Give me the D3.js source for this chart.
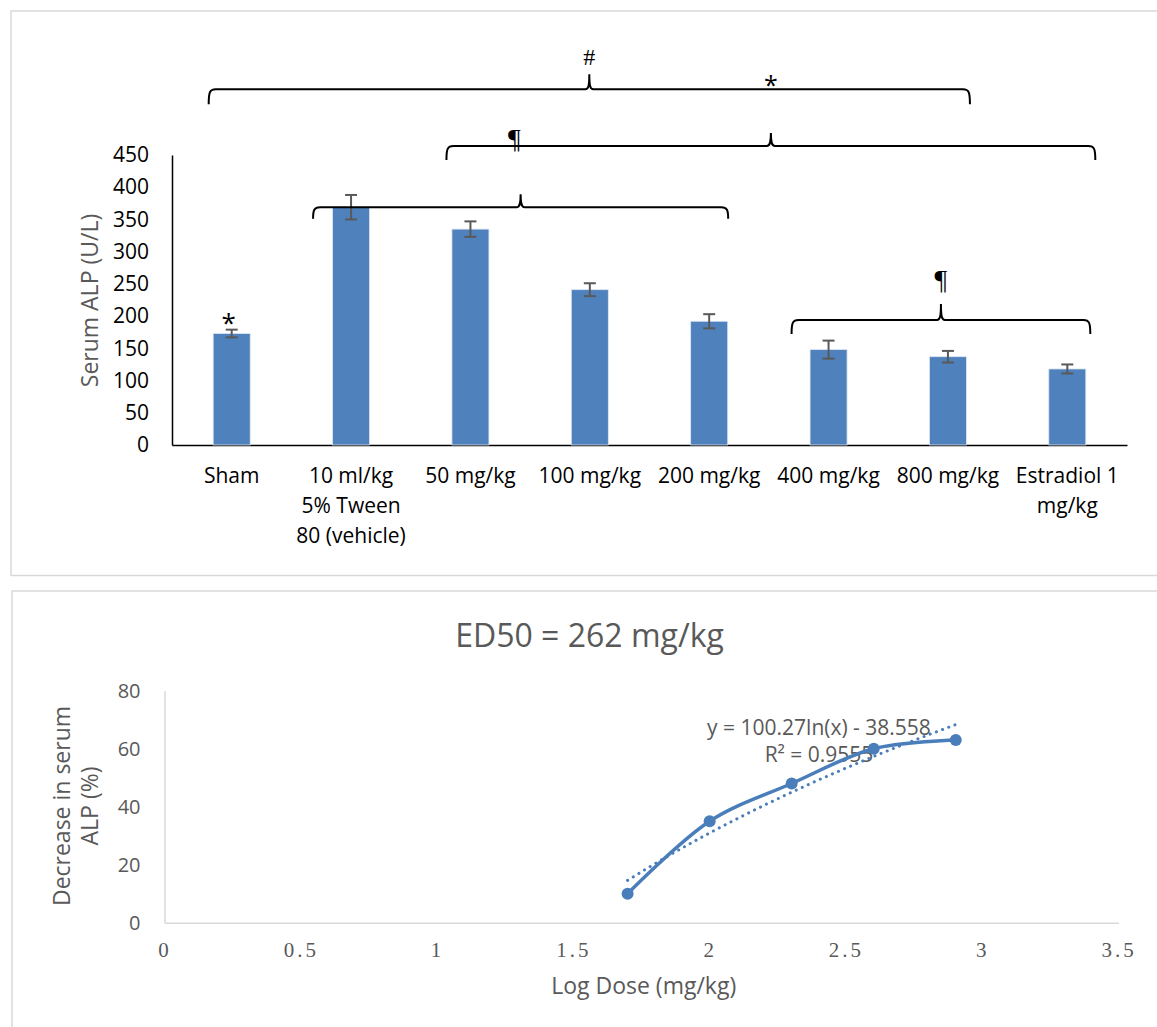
<!DOCTYPE html>
<html>
<head>
<meta charset="utf-8">
<script src="https://cdn.jsdelivr.net/npm/d3@7"></script>
<style>
    body { margin: 0; background: #fff; }
    svg { font-family: "Open Sans", sans-serif; }
</style>
</head>
<body>
<div class="container"></div>
<script>
// ---- top chart data: serum ALP per group ----
const categories = ["Sham", "10 ml/kg 5% Tween 80 (vehicle)", "50 mg/kg", "100 mg/kg", "200 mg/kg", "400 mg/kg", "800 mg/kg", "Estradiol 1 mg/kg"];
const categoryLines = [["Sham"], ["10 ml/kg", "5% Tween", "80 (vehicle)"], ["50 mg/kg"], ["100 mg/kg"], ["200 mg/kg"], ["400 mg/kg"], ["800 mg/kg"], ["Estradiol 1", "mg/kg"]];
const alpMeans = [173, 369, 335, 241, 192, 148, 137, 118];
const alpErrors = [6, 19, 12, 10, 11, 14, 9, 7];
const alpMax = 450;

// significance brackets (group spans and level in U/L)
const bracketFrom = ["Sham", "50 mg/kg", "10 ml/kg 5% Tween 80 (vehicle)", "400 mg/kg"];
const bracketTo = ["800 mg/kg", "Estradiol 1 mg/kg", "200 mg/kg", "Estradiol 1 mg/kg"];
const bracketLevel = [552, 464, 369, 194];
const shamMark = "*";

// ---- bottom chart data: dose response ----
const logDose = [1.699, 2, 2.301, 2.602, 2.903];
const alpDecrease = [10, 35, 48, 60, 63];
const trendSlope = 100.27;
const trendIntercept = -38.558;
const trendR2 = 0.9555;
const ed50Label = "ED50 = 262 mg/kg";

const sans = "'Open Sans', sans-serif";
const serif = "'Liberation Serif', 'DejaVu Serif', serif";

const svg = d3.select(".container")
    .append("svg")
    .attr("width", 1157)
    .attr("height", 1027)
    .style("display", "block");

// panel frames
svg.append("rect")
    .attr("x", 11).attr("y", 11).attr("width", 1170).attr("height", 564.5)
    .attr("fill", "#fff").attr("stroke", "#d9d9d9").attr("stroke-width", 1.5);
svg.append("rect")
    .attr("x", 12).attr("y", 591).attr("width", 1170).attr("height", 470)
    .attr("fill", "#fff").attr("stroke", "#d9d9d9").attr("stroke-width", 1.5);

// ================= top bar chart =================
const x = d3.scaleBand()
    .domain(categories)
    .range([172, 1127])
    .paddingInner(0.69)
    .paddingOuter(0.345);

const y = d3.scaleLinear().domain([0, alpMax]).range([445, 155]);

const topG = svg.append("g");

const yAxis = topG.append("g")
    .attr("transform", "translate(172,0)")
    .call(d3.axisLeft(y).ticks(9).tickSizeInner(0).tickSizeOuter(0).tickPadding(23));
yAxis.select(".domain").attr("stroke", "#000").attr("stroke-width", 1.5);
yAxis.selectAll("text")
    .style("font-family", sans)
    .style("font-size", "21px")
    .attr("fill", "#000");

const xAxis = topG.append("g")
    .attr("transform", "translate(0,445)")
    .call(d3.axisBottom(x).tickSizeInner(0).tickSizeOuter(0).tickFormat(""));
xAxis.select(".domain").attr("stroke", "#000").attr("stroke-width", 1.5);

xAxis.selectAll(".tick text")
    .attr("y", 0)
    .attr("dy", 0)
    .style("font-family", sans)
    .style("font-size", "21px")
    .attr("fill", "#000")
    .each(function (d, i) {
        const t = d3.select(this);
        categoryLines[i].forEach((line, j) => {
            t.append("tspan").attr("x", 0).attr("y", 38 + j * 30).text(line);
        });
    });

topG.append("text")
    .attr("transform", "translate(98,300.5) rotate(-90)")
    .attr("text-anchor", "middle")
    .style("font-size", "23px")
    .attr("fill", "#595959")
    .text("Serum ALP (U/L)");

const barData = categories.map((c, i) => ({ name: c, value: alpMeans[i], err: alpErrors[i] }));

topG.selectAll("rect.bar")
    .data(barData)
    .enter()
    .append("rect")
    .attr("class", "bar")
    .attr("x", (d) => x(d.name))
    .attr("y", (d) => y(d.value))
    .attr("width", x.bandwidth())
    .attr("height", (d) => y(0) - y(d.value))
    .attr("fill", "#4f81bd")
    .attr("stroke", "#dbe5f1")
    .attr("stroke-width", 0.8);

const errG = topG.selectAll("g.err")
    .data(barData)
    .enter()
    .append("g")
    .attr("class", "err")
    .attr("stroke", "#595959")
    .attr("stroke-width", 2);
const cx = (d) => x(d.name) + x.bandwidth() / 2;
errG.append("line")
    .attr("x1", cx).attr("x2", cx)
    .attr("y1", (d) => y(d.value - d.err))
    .attr("y2", (d) => y(d.value + d.err));
errG.append("line")
    .attr("x1", (d) => cx(d) - 6).attr("x2", (d) => cx(d) + 6)
    .attr("y1", (d) => y(d.value + d.err)).attr("y2", (d) => y(d.value + d.err));
errG.append("line")
    .attr("x1", (d) => cx(d) - 6).attr("x2", (d) => cx(d) + 6)
    .attr("y1", (d) => y(d.value - d.err)).attr("y2", (d) => y(d.value - d.err));

// curly brace opening downwards
const bracePath = (x0, x1, yl, drop, rise) => {
    const xm = (x0 + x1) / 2;
    return `M${x0},${yl + drop}` +
        `C${x0},${yl + 3} ${x0 + 1},${yl} ${x0 + 7},${yl}` +
        `L${xm - 4},${yl}` +
        `C${xm - 1},${yl} ${xm},${yl - 3} ${xm},${yl - rise}` +
        `C${xm},${yl - 3} ${xm + 1},${yl} ${xm + 4},${yl}` +
        `L${x1 - 7},${yl}` +
        `C${x1 - 1},${yl} ${x1},${yl + 3} ${x1},${yl + drop}`;
};

// pixel insets of each bracket end from the bar centres
const braceStyle = [
    { padL: 23, padR: 22, drop: 15, rise: 15 },
    { padL: 24, padR: 28, drop: 14, rise: 13 },
    { padL: 38, padR: 19, drop: 11.5, rise: 13 },
    { padL: 37, padR: 23, drop: 14, rise: 16 },
];

const braces = bracketFrom.map((f, i) => {
    const x0 = x(f) + x.bandwidth() / 2 - braceStyle[i].padL;
    const x1 = x(bracketTo[i]) + x.bandwidth() / 2 + braceStyle[i].padR;
    return { x0, x1, xm: (x0 + x1) / 2, yl: y(bracketLevel[i]), ...braceStyle[i] };
});

topG.selectAll("path.brace")
    .data(braces)
    .enter()
    .append("path")
    .attr("class", "brace")
    .attr("d", (d) => bracePath(d.x0, d.x1, d.yl, d.drop, d.rise))
    .attr("fill", "none")
    .attr("stroke", "#000")
    .attr("stroke-width", 2);

// symbols on the brackets
topG.append("text")
    .attr("x", braces[0].xm).attr("y", 65)
    .attr("text-anchor", "middle")
    .style("font-family", serif)
    .style("font-size", "24px")
    .text("#");
topG.append("text")
    .attr("x", braces[1].xm).attr("y", 94)
    .attr("text-anchor", "middle")
    .style("font-size", "25px")
    .text("*");
topG.append("text")
    .attr("x", braces[1].x0 + 68).attr("y", 148)
    .attr("text-anchor", "middle")
    .style("font-family", serif)
    .style("font-size", "28px")
    .text("¶");
topG.append("text")
    .attr("x", braces[3].xm).attr("y", 289)
    .attr("text-anchor", "middle")
    .style("font-family", serif)
    .style("font-size", "28px")
    .text("¶");
topG.append("text")
    .attr("x", cx(barData[0]) - 3).attr("y", 332)
    .attr("text-anchor", "middle")
    .style("font-size", "26px")
    .text(shamMark);

// ================= bottom dose-response chart =================
const xs = d3.scaleLinear().domain([0, 3.5]).range([164.5, 1118.5]);
const ys = d3.scaleLinear().domain([0, 80]).range([922.7, 690.7]);

const bottomG = svg.append("g");

bottomG.append("text")
    .attr("x", 589.5).attr("y", 646.7)
    .attr("text-anchor", "middle")
    .style("font-size", "32px")
    .attr("fill", "#595959")
    .text(ed50Label);

const xsAxis = bottomG.append("g")
    .attr("transform", "translate(0,922.7)")
    .call(d3.axisBottom(xs).ticks(7).tickFormat((d) => String(d)).tickSizeInner(0).tickSizeOuter(0));
xsAxis.select(".domain").attr("stroke", "#d9d9d9").attr("stroke-width", 1.5);
xsAxis.selectAll("text")
    .attr("y", 34).attr("dy", 0)
    .style("font-family", serif)
    .style("font-size", "21px")
    .style("letter-spacing", "3px")
    .attr("fill", "#595959");

const ysAxis = bottomG.append("g")
    .attr("transform", "translate(164.5,0)")
    .call(d3.axisLeft(ys).ticks(4).tickSizeInner(0).tickSizeOuter(0).tickPadding(24));
ysAxis.select(".domain").attr("stroke", "#d9d9d9").attr("stroke-width", 1.5);
ysAxis.selectAll("text")
    .style("font-family", sans)
    .style("font-size", "20px")
    .attr("fill", "#595959");

bottomG.append("text")
    .attr("x", 643.7).attr("y", 994)
    .attr("text-anchor", "middle")
    .style("font-size", "23px")
    .attr("fill", "#595959")
    .text("Log Dose (mg/kg)");

["Decrease in serum", "ALP (%)"].forEach((line, j) => {
    bottomG.append("text")
        .attr("transform", `translate(${70 + j * 28},806) rotate(-90)`)
        .attr("text-anchor", "middle")
        .style("font-size", "23px")
        .attr("fill", "#595959")
        .text(line);
});

// trendline equation label
bottomG.append("text")
    .attr("x", 819).attr("y", 735)
    .attr("text-anchor", "middle")
    .style("font-size", "21px")
    .attr("fill", "#595959")
    .text(`y = ${trendSlope}ln(x) - ${Math.abs(trendIntercept)}`);
bottomG.append("text")
    .attr("x", 819).attr("y", 762)
    .attr("text-anchor", "middle")
    .style("font-size", "21px")
    .attr("fill", "#595959")
    .text(`R² = ${trendR2}`);

const points = logDose.map((d, i) => ({ x: d, y: alpDecrease[i] }));

// log trendline y = a ln(x) + b over the data range
const trendX = d3.range(0, 41).map((k) => logDose[0] + (k / 40) * (logDose[logDose.length - 1] - logDose[0]));
const trendPts = trendX.map((v) => ({ x: v, y: trendSlope * Math.log(v) + trendIntercept }));

bottomG.append("path")
    .datum(trendPts)
    .attr("d", d3.line().x((d) => xs(d.x)).y((d) => ys(d.y)))
    .attr("fill", "none")
    .attr("stroke", "#4a7ebb")
    .attr("stroke-width", 3)
    .attr("stroke-linecap", "round")
    .attr("stroke-dasharray", "0.1 6.5");

bottomG.append("path")
    .datum(points)
    .attr("d", d3.line().curve(d3.curveCatmullRom.alpha(0.5)).x((d) => xs(d.x)).y((d) => ys(d.y)))
    .attr("fill", "none")
    .attr("stroke", "#4a7ebb")
    .attr("stroke-width", 3.5);

bottomG.selectAll("circle.pt")
    .data(points)
    .enter()
    .append("circle")
    .attr("class", "pt")
    .attr("cx", (d) => xs(d.x))
    .attr("cy", (d) => ys(d.y))
    .attr("r", 6)
    .attr("fill", "#4a7ebb");
</script>
</body>
</html>
